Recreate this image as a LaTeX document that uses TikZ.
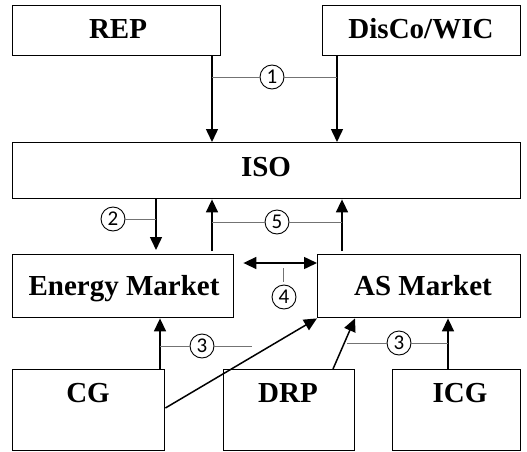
\documentclass[tikz,border=0pt]{standalone}
\usepackage{fontspec}
\setmainfont{Liberation Serif}
\newfontfamily\numfont{Carlito}
\usetikzlibrary{arrows.meta}
\begin{document}
\begin{tikzpicture}[x=1pt,y=-1pt,
  box/.style={draw,line width=1.4pt,inner sep=0,anchor=north west},
  lbl/.style={font=\fontsize{29}{31}\selectfont\bfseries,anchor=base,inner sep=0},
  arr/.style={line width=1.5pt,-{Triangle[length=13pt,width=12pt]}},
  darr/.style={line width=1.5pt,{Triangle[length=13pt,width=12pt]}-{Triangle[length=13pt,width=12pt]}},
  tag/.style={circle,draw,line width=0.9pt,minimum size=24pt,inner sep=0,font=\numfont\fontsize{21}{21}\selectfont},
  lead/.style={draw=black!55,line width=0.8pt}]
\useasboundingbox (0,0) rectangle (527,452);
\fill[white] (0,0) rectangle (527,452);

% boxes
\node[box,minimum width=208pt,minimum height=50pt] (rep) at (12,5) {};
\node[box,minimum width=198pt,minimum height=50pt] (disco) at (322,5) {};
\node[box,minimum width=508pt,minimum height=56pt] (iso) at (12,142) {};
\node[box,minimum width=221pt,minimum height=63pt] (em) at (12,254) {};
\node[box,minimum width=203pt,minimum height=63pt] (as) at (317,254) {};
\node[box,minimum width=152pt,minimum height=81pt] (cg) at (12,369) {};
\node[box,minimum width=131pt,minimum height=81pt] (drp) at (223,369) {};
\node[box,minimum width=128pt,minimum height=81pt] (icg) at (392,369) {};

% box labels
\node[lbl] (rep-t) at (118,39) {REP};
\node[lbl] (disco-t) at (421,39) {DisCo/WIC};
\node[lbl] (iso-t) at (266,176) {ISO};
\node[lbl] (em-t) at (124,295) {Energy Market};
\node[lbl] (as-t) at (423,295) {AS Market};
\node[lbl] (cg-t) at (88,402) {CG};
\node[lbl] (drp-t) at (288,402) {DRP};
\node[lbl] (icg-t) at (460,402) {ICG};

% connector columns and rows
\coordinate (xa) at (212,0);
\coordinate (xb) at (337,0);
\coordinate (xc) at (156,0);
\coordinate (xd) at (342,0);
\coordinate (xe) at (160,0);
\coordinate (xf) at (448,0);
\coordinate (xg) at (333,0);
\coordinate (xh) at (355,0);
\coordinate (xi) at (347,0);
\coordinate (yd) at (0,263);
\coordinate (yg) at (0,408);

% arrows
\draw[arr] (rep.south -| xa) -- (iso.north -| xa);
\draw[arr] (disco.south -| xb) -- (iso.north -| xb);
\draw[arr,shorten >=4pt] (iso.south -| xc) -- (em.north -| xc);
\draw[arr,shorten <=3pt] (em.north -| xa) -- (iso.south -| xa);
\draw[arr,shorten <=3pt] (as.north -| xd) -- (iso.south -| xd);
\draw[darr,shorten <=9pt] (em.east |- yd) -- (as.west |- yd);
\draw[arr] (cg.north -| xe) -- (em.south -| xe);
\draw[arr] (icg.north -| xf) -- (as.south -| xf);
\draw[arr] (cg.east |- yg) -- (as.south west);
\draw[arr] (drp.north -| xg) -- (as.south -| xh);

% numbered tags with leader lines
\node[tag] (t1) at (272,77) {1};
\draw[lead] (xa |- t1) -- (t1.west);
\draw[lead] (t1.east) -- (xb |- t1);

\node[tag] (t2) at (113,219) {2};
\draw[lead] (t2.east) -- (xc |- t2);

\node[tag] (t5) at (277,222) {5};
\draw[lead] (xa |- t5) -- (t5.west);
\draw[lead] (t5.east) -- (xd |- t5);

\node[tag] (t4) at (284,297) {4};
\coordinate (p4) at (283,268);
\draw[lead,shorten >=3pt] (p4) -- (p4 |- t4.north);

\node[tag] (t3a) at (202,346) {3};
\coordinate (e3a) at (252,346);
\draw[lead] (xe |- t3a) -- (t3a.west);
\draw[lead] (t3a.east) -- (e3a);

\node[tag] (t3b) at (399,343) {3};
\draw[lead] (xi |- t3b) -- (t3b.west);
\draw[lead] (t3b.east) -- (xf |- t3b);
\end{tikzpicture}
\end{document}
